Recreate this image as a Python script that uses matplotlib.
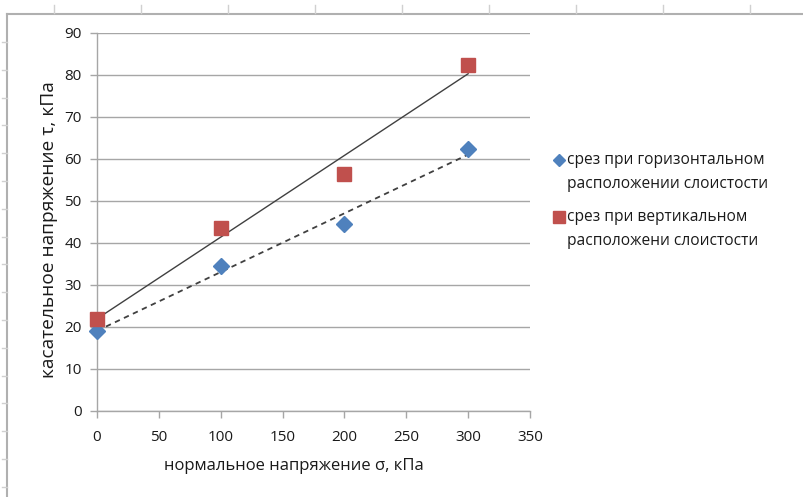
import matplotlib.pyplot as plt
import numpy as np

plt.rcParams['font.family'] = ['Open Sans', 'DejaVu Sans']

# normal stress, kPa
sigma = [0, 100, 200, 300]
# shear stress, kPa
tau_horizontal = [19.0, 34.5, 44.5, 62.3]
tau_vertical = [22.0, 43.5, 56.5, 82.5]

label_horizontal = 'срез при горизонтальном\nрасположении слоистости'
label_vertical = 'срез при вертикальном\nрасположени слоистости'

x_ticks = [0, 50, 100, 150, 200, 250, 300, 350]
y_ticks = [0, 10, 20, 30, 40, 50, 60, 70, 80, 90]

blue = '#4F81BD'
red = '#C0504D'
grid_gray = '#A6A6A6'
text_col = '#1a1a1a'

fig = plt.figure(figsize=(8.04, 4.97), dpi=100)
W, H = 804, 497

# spreadsheet frame behind the chart, in pixel units
frame = fig.add_axes([0, 0, 1, 1], zorder=-1)
frame.set_xlim(0, W)
frame.set_ylim(H, 0)
frame.axis('off')
frame.plot([7, W], [13.5, 13.5], color='#B0B0B0', lw=1.5)
frame.plot([7.5, 7.5], [13.5, H], color='#B0B0B0', lw=1.5)
for xt in np.arange(54, W, 87):
    frame.plot([xt, xt], [5, 13], color='#D0D0D0', lw=1)
for yt in np.arange(42, H, 27.8):
    frame.plot([2, 7], [yt, yt], color='#D0D0D0', lw=1)

ax = fig.add_axes([97 / W, 1 - 411 / H, (530 - 97) / W, (411 - 33) / H])

# linear trendlines over the measured range
xs = np.array([min(sigma), max(sigma)])
kh, bh = np.polyfit(sigma, tau_horizontal, 1)
kv, bv = np.polyfit(sigma, tau_vertical, 1)
ax.plot(xs, kh * xs + bh, color='#404040', lw=1.3, ls=(0, (3, 2.5)), zorder=3)
ax.plot(xs, kv * xs + bv, color='#404040', lw=1.0, zorder=3)

ax.plot(sigma, tau_horizontal, ls='none', marker='D', ms=8, color=blue,
        markeredgecolor=blue, zorder=4, clip_on=False)
ax.plot(sigma, tau_vertical, ls='none', marker='s', ms=9.5, color=red,
        markeredgecolor=red, zorder=4, clip_on=False)

ax.set_xlim(0, 350)
ax.set_ylim(0, 90)
ax.set_xticks(x_ticks)
ax.set_yticks(y_ticks)
ax.grid(axis='y', color=grid_gray, lw=1)
ax.set_axisbelow(True)
for side in ['top', 'right']:
    ax.spines[side].set_visible(False)
for side in ['left', 'bottom']:
    ax.spines[side].set_color(grid_gray)
    ax.spines[side].set_linewidth(1)
ax.tick_params(axis='both', direction='out', length=5, width=1, color=grid_gray,
               labelsize=11, labelcolor=text_col)
ax.tick_params(axis='x', pad=9)
ax.tick_params(axis='y', pad=6)

ax.set_xlabel('нормальное напряжение σ, кПа', fontsize=12, color=text_col)
ax.xaxis.set_label_coords(0.455, -0.124)
ax.set_ylabel('касательное напряжение τ, кПа', fontsize=13.8, color=text_col)
ax.yaxis.set_label_coords(-0.09, 0.479)

# legend: marker beside the first line of each two-line entry
entries = [
    (label_horizontal, 'D', 6.2, blue, 160),
    (label_vertical, 's', 9, red, 217),
]
for text, marker, ms, color, y0 in entries:
    frame.plot([559], [y0], ls='none', marker=marker, ms=ms, color=color)
    for i, line in enumerate(text.split('\n')):
        frame.text(567, y0 + 24 * i, line, fontsize=11.2, color=text_col,
                   ha='left', va='center')

fig.savefig('out.png', dpi=100)
